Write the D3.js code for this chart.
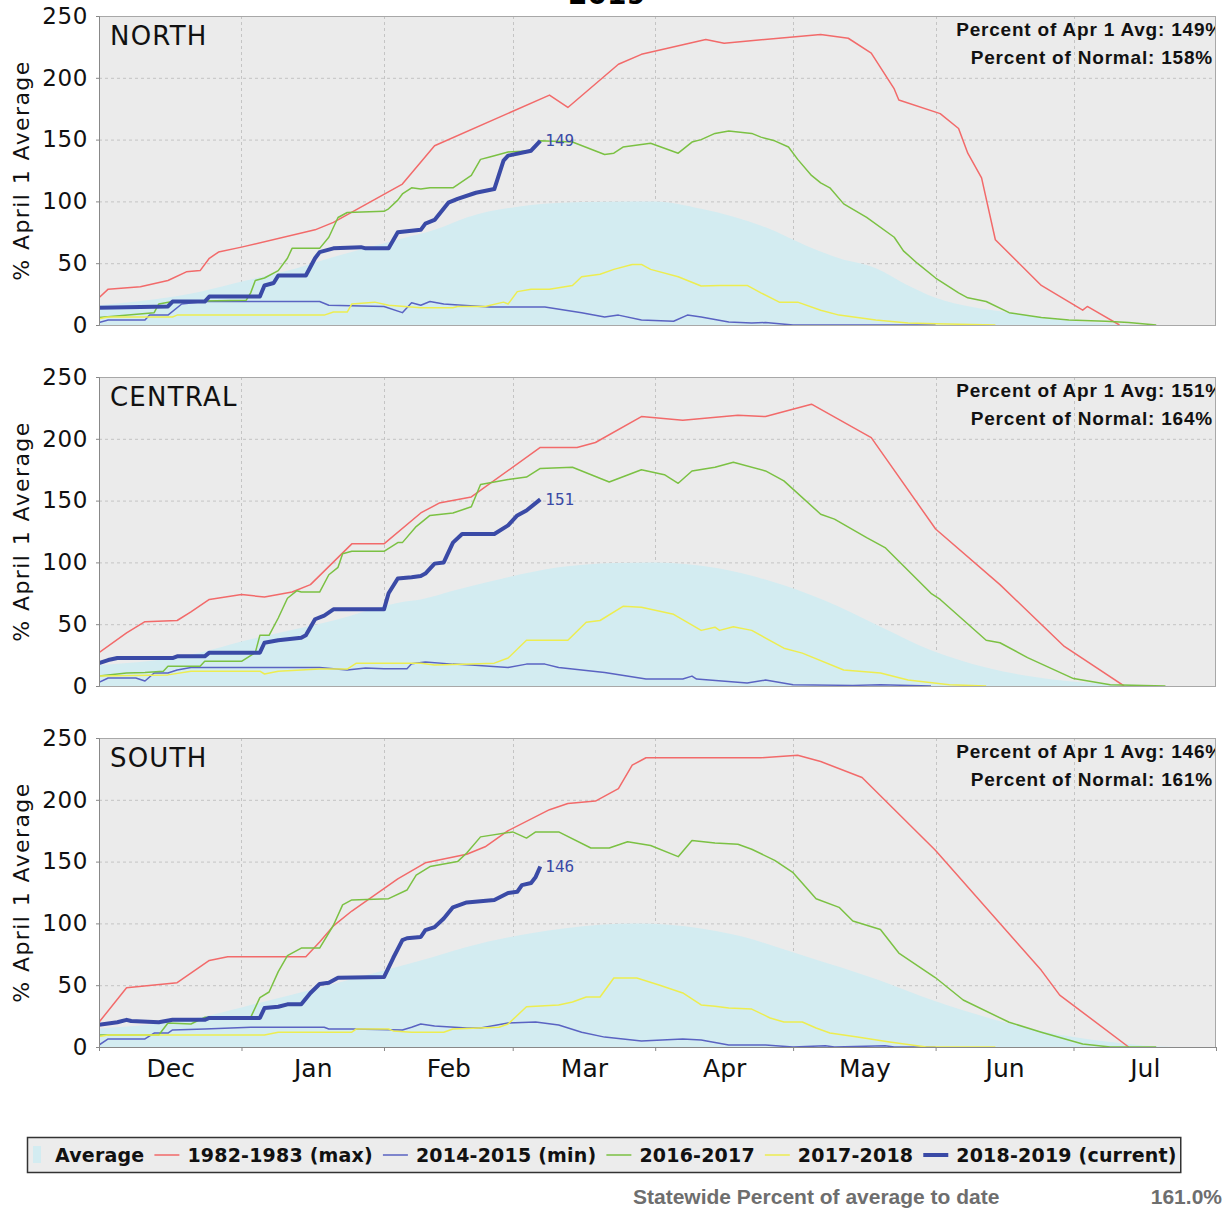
<!DOCTYPE html>
<html><head><meta charset="utf-8">
<script src="https://cdn.jsdelivr.net/npm/d3@7"></script>
<style>body{margin:0;background:#fff}svg{display:block}</style>
</head><body><svg id="c" width="1228" height="1211"></svg>
<script>
// ---------- data ----------
const monthLabels = ["Dec","Jan","Feb","Mar","Apr","May","Jun","Jul"];
const yTickValues = [0,50,100,150,200,250];
const regionNames = ["NORTH","CENTRAL","SOUTH"];
const pctOfApr1 = [149,151,146];
const pctOfNormal = [158,164,161];
const titleYear = "2019";
const statewideLabel = "Statewide Percent of average to date";
const statewidePct = "161.0%";
const seriesLabels = ["Average","1982-1983 (max)","2014-2015 (min)","2016-2017","2017-2018","2018-2019 (current)"];

// each point: [days since Dec 1 2018, % of April 1 average]
const northAverage = [[0,16],[22,27],[32,36],[43,46],[51,55],[66,70],[73,77],[80,87],[94,97],[105,99.5],[116,100],[121,100],[131,94],[145,79],[154,64],[161,54],[169,46],[176,32],[182,22],[190,14.5],[198,10],[205,6],[212,3],[219,1.6],[227,0],[243,0]];
const northMax = [[0,22],[2,29],[9,31],[15,36],[19,43],[22,44],[24,54],[26,59],[31,63],[47,77],[51,83],[66,114],[73,145],[98,186],[102,176],[113,211],[118,219],[132,231],[136,228],[157,235],[163,232],[168,220],[173,191],[174,182],[183,171],[187,159],[189,139],[192,119],[195,69],[205,32],[214,12],[215,15],[222,0]];
const northMin = [[0,2],[2,4],[10,4],[11,8],[15,8],[18,17],[23,19],[48,19],[50,16],[62,15],[66,10],[68,18],[70,16],[72,19],[75,17],[79,16],[85,14.5],[97,14.5],[105,10],[110,6.5],[113,8],[118,4],[125,3],[128,8],[131,6.5],[137,2.4],[142,1.6],[145,2],[151,0],[182,0]];
const north2017 = [[0,6],[12,10],[13,17],[16,19],[32,20],[33,26],[34,36],[36,38],[39,44],[41,54],[42,62],[48,62],[50,71],[52,87],[54,91],[62,92],[63,94],[65,101],[66,106],[68,111],[70,110],[72,111],[77,111],[81,121],[83,134],[85,136],[89,140],[94,141],[96,149],[103,148],[110,138],[112,139],[114,144],[120,147],[126,139],[129,148],[131,150],[134,155],[137,157],[142,155],[144,152],[147,149],[150,144],[152,134],[155,121],[157,115],[159,111],[162,98],[167,87],[173,71],[175,60],[178,50],[182,38],[187,26],[189,22],[193,19],[198,10],[205,6],[211,4],[219,3],[224,2],[230,0]];
const north2018 = [[0,5],[2,6.5],[16,6.5],[17,8],[49,8],[51,10.5],[54,10.5],[55,17],[60,18.5],[63,16],[70,14],[77,14],[78,15],[84,15],[88,18.5],[89,17],[91,27],[94,29],[98,29],[103,32],[105,39],[109,41],[112,45],[116,49],[118,49],[120,45],[126,39],[131,31.5],[135,32],[141,32],[144,26],[148,18.5],[152,18.5],[157,12],[161,8],[169,4],[176,1.6],[182,1],[195,0]];
const northCurrent = [[0,14],[15,15],[16,19],[23,19],[24,23],[35,23],[36,32],[38,34],[39,40],[45,40],[47,54],[48,59],[51,62],[57,63],[58,62],[63,62],[65,75],[70,77],[71,82],[73,85],[76,99],[78,102],[82,107],[86,110],[88,133],[89,137],[94,141],[96,149]];

const centralAverage = [[0,17],[22,27],[31,36],[51,53],[66,68],[70,70],[77,77],[89,88],[100,96],[112,99.5],[121,100],[135,95],[146,85],[158,69],[170,48],[181,29],[193,15],[204,7],[216,2.4],[227,0.8],[232,0],[243,0]];
const centralMax = [[0,27],[6,43],[10,52],[17,53],[20,60],[24,70],[31,74],[36,72],[42,76],[46,82],[55,115],[62,115],[70,140],[74,148],[81,153],[96,193],[104,193],[108,197],[118,218],[127,215],[139,219],[145,218],[155,228],[168,201],[182,127],[196,82],[210,32],[223,0]];
const centralMin = [[0,3],[2,6.5],[8,6.5],[10,4],[12,10.5],[15,10.5],[17,13],[20,15],[48,15],[54,13],[58,14.5],[62,14],[67,14],[68,18],[71,19.4],[77,17.7],[81,17],[89,15],[93,17.7],[97,17.7],[100,15],[110,11],[119,5.6],[127,5.6],[129,8],[130,5.6],[141,2.4],[145,4.8],[151,1],[164,0.5],[170,1],[181,0]];
const central2017 = [[0,8],[6,10.5],[10,11],[14,12],[15,16],[22,16],[23,20],[31,20],[34,27],[35,41],[37,41],[39,55],[41,71],[43,77],[44,76],[48,76],[50,90],[52,96],[53,107],[55,109],[62,109],[65,116],[66,116],[69,129],[72,138],[77,140],[81,145],[83,163],[89,167],[93,169],[96,176],[103,177],[111,165],[118,175],[123,171],[126,164],[129,174],[134,177],[138,181],[145,174],[149,166],[157,139],[160,135],[167,120],[171,112],[181,75],[183,70],[193,37],[196,35],[202,23],[212,6],[220,1],[232,0]];
const central2018 = [[0,8],[15,9],[20,12],[35,12],[36,9.7],[39,12],[48,13.7],[54,13.7],[56,18.5],[70,18.5],[73,17],[81,17.7],[86,18.5],[89,22.6],[93,37],[102,37],[106,51.6],[109,53],[114,64.5],[118,63.7],[125,58],[131,45],[134,47.6],[135,45],[138,48],[142,45],[149,30.6],[153,26.6],[162,13],[170,10.5],[176,4.8],[185,1],[193,0]];
const centralCurrent = [[0,18.5],[2,21],[4,22.6],[16,22.6],[17,24],[23,24],[24,27],[35,27],[36,35],[39,37],[44,39],[45,41],[47,54],[49,57],[51,62],[62,62],[63,75],[65,87],[68,88],[70,89],[71,91],[73,99],[75,100],[77,116],[79,123],[86,123],[89,130],[91,138],[93,142],[96,151]];

const southAverage = [[0,15],[22,24],[31,32],[51,51],[66,66],[70,70],[80,81],[94,92],[109,99],[117,100],[124,99],[138,91],[154,73],[169,55],[182,37],[198,19],[212,8],[220,4],[234,0],[243,0]];
const southMax = [[0,20],[6,48],[17,52],[24,70],[28,73],[45,73],[48,85],[51,98],[55,110],[65,136],[71,149],[80,156],[84,162],[89,175],[98,192],[102,197],[108,199],[113,209],[116,228],[119,234],[144,234],[152,236],[157,231],[166,218],[182,159],[205,62],[209,42],[224,0]];
const southMin = [[0,1.6],[2,6.5],[10,6.5],[12,11.3],[15,11.3],[16,13.8],[23,14.6],[33,16],[49,16],[50,14.6],[55,14.6],[66,13.8],[68,16],[70,18.6],[73,17],[80,15.4],[83,15.4],[89,19.4],[95,20.2],[100,17.8],[105,12],[110,8],[118,4.8],[127,6.5],[131,5.7],[137,1.6],[145,1.6],[151,0],[158,1],[160,0],[171,1],[173,0],[182,0]];
const south2017 = [[0,9.7],[13,9.7],[15,19.4],[20,18.6],[23,24],[33,24],[35,40],[37,44.5],[39,61],[41,74],[44,80],[48,80],[51,98.5],[53,115],[55,119],[63,120],[67,127],[69,139],[72,146],[78,150],[80,157],[83,170],[90,174],[93,169],[95,174],[100,174],[107,161],[111,161],[115,166],[120,163],[126,154],[129,167],[134,165],[139,164],[142,160],[147,151],[151,141],[156,120],[161,113],[164,102],[170,95],[174,76],[182,56],[188,38],[198,20],[205,12],[214,2.4],[220,0],[230,0]];
const south2018 = [[0,8.4],[2,9.7],[36,9.7],[39,12],[55,12],[56,14.6],[63,14.6],[64,13],[68,12],[75,12],[77,14.6],[87,16],[89,18.6],[93,32.6],[100,34],[103,36.4],[106,40.5],[109,40.5],[112,55.8],[117,55.8],[122,50],[127,43.7],[131,34],[134,33],[137,31.5],[142,30.7],[146,23.5],[149,20.2],[153,20.2],[156,15.4],[159,11.3],[165,8],[172,4],[180,0],[195,0]];
const southCurrent = [[0,18],[4,20],[6,22],[7,21],[13,20],[16,22],[23,22],[24,23.5],[35,23.5],[36,31.5],[39,32.6],[41,34.5],[44,34.5],[46,43.7],[48,51],[50,52],[52,56],[62,56.6],[64,72],[66,86.5],[67,88],[70,89],[71,94.6],[73,97],[75,104],[77,113],[80,117],[86,119],[89,124.6],[91,125.6],[92,131],[94,132.7],[95,137.6],[96,146]];

// ---------- layout / style ----------
const svg = d3.select("#c");
const L = 99, R = 1216;
const panelTops = [16, 377, 738], PH = 309;
const colors = {avg:"#d3ecf1", max:"#f26a6a", min:"#5a63c2", y2017:"#7bc143", y2018:"#eded50", cur:"#3a4aa6"};
const bg = "#ebebeb";
const start = Date.UTC(2018,11,1);
const toDate = d => new Date(start + d*86400000);
const x = d3.scaleUtc().domain([new Date(start), new Date(Date.UTC(2019,7,1))]).range([L,R]);
const monthStarts = d3.utcMonth.range(new Date(start), new Date(Date.UTC(2019,7,2)));

const panels = [
  {avg:northAverage, max:northMax, min:northMin, y2017:north2017, y2018:north2018, cur:northCurrent},
  {avg:centralAverage, max:centralMax, min:centralMin, y2017:central2017, y2018:central2018, cur:centralCurrent},
  {avg:southAverage, max:southMax, min:southMin, y2017:south2017, y2018:south2018, cur:southCurrent}
];

svg.append("text").attr("x",607).attr("y",4).attr("text-anchor","middle")
  .attr("font-family","DejaVu Sans").attr("font-weight","bold").attr("font-size",28).attr("fill","#000").text(titleYear);

panels.forEach((p,i)=>{
  const top = panelTops[i], bot = top+PH;
  const y = d3.scaleLinear().domain([0,250]).range([bot,top]);
  const g = svg.append("g");
  const cid = "clip"+i;
  svg.append("clipPath").attr("id",cid).append("rect").attr("x",L).attr("y",top).attr("width",R-L).attr("height",PH);
  g.append("rect").attr("x",L).attr("y",top).attr("width",R-L).attr("height",PH).attr("fill",bg);
  // gridlines
  const grid = g.append("g").attr("stroke","#c4c4c4").attr("stroke-dasharray","3,3").attr("stroke-width",1);
  yTickValues.filter(v=>v>0&&v<250).forEach(v=>grid.append("line").attr("x1",L).attr("x2",R).attr("y1",y(v)+0.5).attr("y2",y(v)+0.5));
  monthStarts.slice(1,-1).forEach(d=>grid.append("line").attr("x1",Math.round(x(d))+0.5).attr("x2",Math.round(x(d))+0.5).attr("y1",top).attr("y2",bot));
  const pg = g.append("g").attr("clip-path",`url(#${cid})`);
  pg.append("path").datum(p.avg).attr("fill",colors.avg)
    .attr("d", d3.area().x(d=>x(toDate(d[0]))).y0(y(0)).y1(d=>y(d[1])).curve(d3.curveMonotoneX));
  const line = d3.line().x(d=>x(toDate(d[0]))).y(d=>y(d[1]));
  [["max",1.5],["min",1.5],["y2017",1.5],["y2018",1.5],["cur",4]].forEach(([k,w])=>{
    pg.append("path").datum(p[k]).attr("fill","none").attr("stroke",colors[k]).attr("stroke-width",w)
      .attr("stroke-linejoin","round").attr("d",line);
  });
  const last = p.cur[p.cur.length-1];
  pg.append("text").attr("x",x(toDate(last[0]))+5).attr("y",y(last[1])).attr("dy","0.35em")
    .attr("font-family","DejaVu Sans Mono").attr("font-size",16).attr("fill",colors.cur).text(last[1]);
  // annotations
  pg.append("text").attr("x",1223).attr("y",top+20).attr("text-anchor","end")
    .attr("font-family","Liberation Sans").attr("font-weight","bold").attr("font-size",19).attr("letter-spacing",0.8).attr("fill","#111")
    .text(`Percent of Apr 1 Avg: ${pctOfApr1[i]}%`);
  pg.append("text").attr("x",1213).attr("y",top+48).attr("text-anchor","end")
    .attr("font-family","Liberation Sans").attr("font-weight","bold").attr("font-size",19).attr("letter-spacing",0.8).attr("fill","#111")
    .text(`Percent of Normal: ${pctOfNormal[i]}%`);
  g.append("text").attr("x",110).attr("y",top+29).attr("font-family","DejaVu Sans").attr("font-size",26).attr("letter-spacing",1.2)
    .attr("fill","#111").text(regionNames[i]);
  // frame
  g.append("rect").attr("x",L+0.5).attr("y",top+0.5).attr("width",R-L-1).attr("height",PH).attr("fill","none").attr("stroke","#a8a8a8");
  // y axis
  const ya = g.append("g").attr("transform",`translate(${L},0)`)
    .call(d3.axisLeft(y).tickValues(yTickValues).tickSize(3).tickPadding(8));
  ya.select(".domain").attr("stroke","#888");
  ya.selectAll(".tick line").attr("stroke","#888");
  ya.selectAll("text").attr("font-family","DejaVu Sans").attr("font-size",23).attr("letter-spacing",0.6).attr("fill","#111");
  g.append("text").attr("transform",`translate(29,${(top+bot)/2}) rotate(-90)`).attr("text-anchor","middle")
    .attr("font-family","DejaVu Sans").attr("font-size",22).attr("letter-spacing",1.4).attr("fill","#111").text("% April 1 Average");
  if(i===2){
    const xa = g.append("g").attr("transform",`translate(0,${bot})`)
      .call(d3.axisBottom(x).tickValues(monthStarts).tickSize(4).tickFormat(""));
    xa.select(".domain").attr("stroke","#888");
    xa.selectAll(".tick line").attr("stroke","#888");
    const mids = monthStarts.slice(0,-1).map((d,j)=>new Date((+d + +monthStarts[j+1])/2));
    const xl = g.append("g").attr("transform",`translate(0,${bot})`)
      .call(d3.axisBottom(x).tickValues(mids).tickSize(0).tickPadding(12).tickFormat((d,j)=>monthLabels[j]));
    xl.select(".domain").remove();
    xl.selectAll("text").attr("font-family","DejaVu Sans").attr("font-size",25).attr("fill","#111");
  }
});

// legend
const lg = svg.append("g");
const box = lg.append("rect").attr("x",27.5).attr("y",1137.5).attr("height",35).attr("fill","#ececec").attr("stroke","#333").attr("stroke-width",1.5);
let cx = 33;
const keys = ["avg","max","min","y2017","y2018","cur"];
keys.forEach((k,j)=>{
  if(k==="avg"){
    lg.append("rect").attr("x",cx).attr("y",1146).attr("width",8).attr("height",17).attr("fill",colors.avg);
    cx += 22;
  } else {
    lg.append("line").attr("x1",cx).attr("x2",cx+25).attr("y1",1155).attr("y2",1155)
      .attr("stroke",colors[k]).attr("stroke-width",k==="cur"?4:1.5);
    cx += 33;
  }
  const t = lg.append("text").attr("x",cx).attr("y",1162).attr("font-family","DejaVu Sans").attr("font-weight","bold")
    .attr("font-size",19).attr("letter-spacing",0.2).attr("fill","#111").text(seriesLabels[j]);
  cx += t.node().getComputedTextLength() + 10;
});
box.attr("width", Math.max(cx - 6 - 27.5, 100));

svg.append("text").attr("x",633).attr("y",1204).attr("font-family","Liberation Sans").attr("font-weight","bold")
  .attr("font-size",21).attr("fill","#6e6e6e").text(statewideLabel);
svg.append("text").attr("x",1222).attr("y",1204).attr("text-anchor","end").attr("font-family","Liberation Sans").attr("font-weight","bold")
  .attr("font-size",21).attr("fill","#6e6e6e").text(statewidePct);
</script></body></html>
